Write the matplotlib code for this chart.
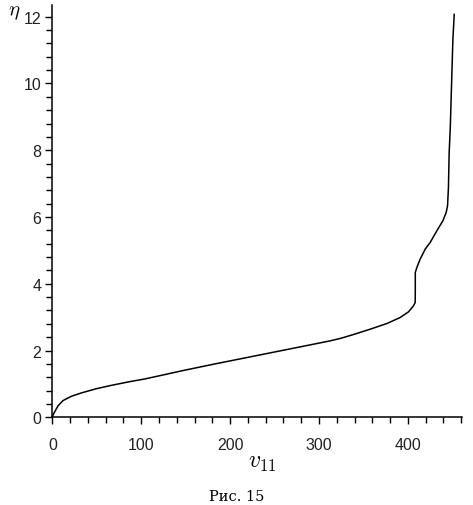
import matplotlib.pyplot as plt
from matplotlib.ticker import MultipleLocator

# кривая eta(v11), значения
v11 = [0, 1.0, 3.0, 6.6, 12.0, 21.4, 32.6, 50.0, 66.9, 85.5, 104.3, 123.1,
       148.6, 165.0, 181.2, 200, 218.8, 237.5, 256.3, 275.1, 293.8, 312.5,
       325.0, 338.8, 357.6, 376.4, 391.3, 400.7, 406.3, 408.2, 408.3, 408.3,
       410.1, 413.8, 419.5, 425.1, 432.6, 439.4, 443.1, 444.6, 445.6, 446.4,
       447.6, 449.5, 450.6, 452.1]
eta = [0, 0.08, 0.18, 0.35, 0.50, 0.63, 0.73, 0.86, 0.96, 1.06, 1.15, 1.26,
       1.41, 1.50, 1.59, 1.69, 1.79, 1.89, 1.99, 2.09, 2.19, 2.29,
       2.37, 2.48, 2.64, 2.81, 2.99, 3.16, 3.34, 3.44, 3.80, 4.34,
       4.49, 4.74, 5.04, 5.24, 5.59, 5.89, 6.14, 6.34, 6.89, 7.93,
       8.63, 10.33, 11.33, 12.07]

xticks = [0, 100, 200, 300, 400]
yticks = [0, 2, 4, 6, 8, 10, 12]

plt.rcParams['mathtext.fontset'] = 'cm'

fig = plt.figure(figsize=(4.73, 5.06), dpi=100)
ax = fig.add_axes([0.1106, 0.1733, 0.8655, 0.8148])

ax.plot(v11, eta, color='black', lw=1.1)

ax.set_xlim(0, 460.5)
ax.set_ylim(0, 12.35)
ax.spines['top'].set_visible(False)
ax.spines['right'].set_visible(False)
for s in ['left', 'bottom']:
    ax.spines[s].set_linewidth(1.1)

ax.set_xticks(xticks)
ax.set_yticks(yticks)
ax.xaxis.set_minor_locator(MultipleLocator(20))
ax.yaxis.set_minor_locator(MultipleLocator(0.4))
ax.tick_params(which='major', length=5, width=1.0, direction='out')
ax.tick_params(which='minor', length=4, width=1.0, direction='out')
ax.tick_params(axis='x', which='major', pad=9)
ax.tick_params(axis='y', which='major', pad=3)
for lab in ax.get_xticklabels() + ax.get_yticklabels():
    lab.set_family('Liberation Sans')
    lab.set_fontsize(11.5)
    lab.set_color('#222222')

fig.text(8 / 473, 1 - 12 / 506, r'$\eta$', fontsize=15, ha='left', va='center')
fig.text(262 / 473, 1 - 462 / 506, r'$v_{11}$', fontsize=17, ha='center', va='center')
fig.text(237 / 473, 1 - 497 / 506, 'Рис. 15', fontsize=10.5, family='DejaVu Serif',
         ha='center', va='center')

fig.savefig('out.png', dpi=100)
